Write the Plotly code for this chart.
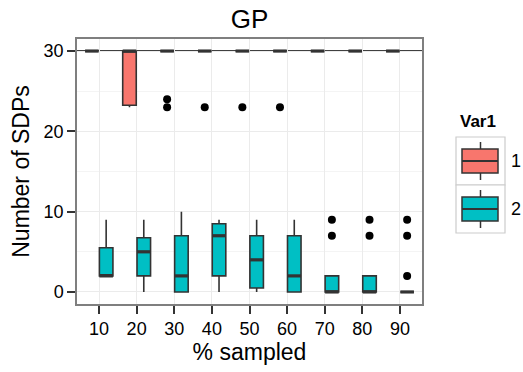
import plotly.graph_objects as go

# % of sites sampled (x categories)
pct_sampled = [10, 20, 30, 40, 50, 60, 70, 80, 90]
tick_labels = ["10", "20", "30", "40", "50", "60", "70", "80", "90"]

# Box statistics for Var1 = 1
q1_v1 = [30, 23.25, 30, 30, 30, 30, 30, 30, 30]
median_v1 = [30, 30, 30, 30, 30, 30, 30, 30, 30]
q3_v1 = [30, 30, 30, 30, 30, 30, 30, 30, 30]
lower_v1 = [30, 23, 30, 30, 30, 30, 30, 30, 30]
upper_v1 = [30, 30, 30, 30, 30, 30, 30, 30, 30]
outlier_pct_v1 = [30, 30, 40, 50, 60]
outlier_val_v1 = [24, 23, 23, 23, 23]

# Box statistics for Var1 = 2
q1_v2 = [2, 2, 0, 2, 0.5, 0, 0, 0, 0]
median_v2 = [2, 5, 2, 7, 4, 2, 0, 0, 0]
q3_v2 = [5.5, 6.75, 7, 8.5, 7, 7, 2, 2, 0]
lower_v2 = [2, 0, 0, 0, 0, 0, 0, 0, 0]
upper_v2 = [9, 9, 10, 9, 9, 9, 2, 2, 0]
outlier_pct_v2 = [70, 70, 80, 80, 90, 90, 90]
outlier_val_v2 = [7, 9, 7, 9, 2, 7, 9]

max_sdps = 30

COLOR_V1 = "#F8766D"
COLOR_V2 = "#00BFC4"
EDGE = "#333333"
FONT = "Liberation Sans, Arial, Helvetica, sans-serif"

DODGE = 0.19
BOX_W = 0.36


def positions(pcts, offset):
    return [pct_sampled.index(p) + 1 + offset for p in pcts]


def median_segments(xs, meds):
    sx, sy = [], []
    for x, m in zip(xs, meds):
        sx += [x - BOX_W / 2, x + BOX_W / 2, None]
        sy += [m, m, None]
    return sx, sy


fig = go.Figure()

groups = [
    (-DODGE, COLOR_V1, q1_v1, median_v1, q3_v1, lower_v1, upper_v1, outlier_pct_v1, outlier_val_v1),
    (DODGE, COLOR_V2, q1_v2, median_v2, q3_v2, lower_v2, upper_v2, outlier_pct_v2, outlier_val_v2),
]

for off, col, q1, med, q3, lo, hi, opct, oval in groups:
    xs = positions(pct_sampled, off)
    fig.add_trace(go.Box(
        x=xs, q1=q1, median=med, q3=q3, lowerfence=lo, upperfence=hi,
        width=BOX_W, whiskerwidth=0, boxpoints=False,
        fillcolor=col, line=dict(color=EDGE, width=1.6),
        showlegend=False, hoverinfo="skip",
    ))
    mx, my = median_segments(xs, med)
    fig.add_trace(go.Scatter(
        x=mx, y=my, mode="lines", line=dict(color=EDGE, width=3.2),
        showlegend=False, hoverinfo="skip",
    ))
    fig.add_trace(go.Scatter(
        x=positions(opct, off), y=oval, mode="markers",
        marker=dict(color="black", size=8),
        showlegend=False, hoverinfo="skip",
    ))

# horizontal reference line at the maximum
fig.add_shape(type="line", xref="paper", x0=0, x1=1, yref="y", y0=max_sdps, y1=max_sdps,
              line=dict(color="black", width=1.6), layer="below")

# --- legend drawn in pixel space ---
L, T, PW, PH = 77, 39, 345, 265


def px(xp):
    return (xp - L) / PW


def py(yp):
    return (T + PH - yp) / PH


legend_keys = [("1", COLOR_V1, 137), ("2", COLOR_V2, 185)]
for label, col, top in legend_keys:
    fig.add_shape(type="rect", xref="paper", yref="paper",
                  x0=px(456), x1=px(505), y0=py(top), y1=py(top + 48),
                  line=dict(color="#CCCCCC", width=1.2), fillcolor="white")
    mid = top + 24
    fig.add_shape(type="line", xref="paper", yref="paper",
                  x0=px(480.5), x1=px(480.5), y0=py(top + 5), y1=py(top + 43),
                  line=dict(color=EDGE, width=1.5))
    fig.add_shape(type="rect", xref="paper", yref="paper",
                  x0=px(462), x1=px(498), y0=py(mid - 12), y1=py(mid + 12),
                  line=dict(color=EDGE, width=1.5), fillcolor=col)
    fig.add_shape(type="line", xref="paper", yref="paper",
                  x0=px(462), x1=px(498), y0=py(mid), y1=py(mid),
                  line=dict(color=EDGE, width=1.8))
    fig.add_annotation(text=label, xref="paper", yref="paper", x=px(509), y=py(mid),
                       xanchor="left", yanchor="middle", showarrow=False,
                       font=dict(size=18, color="black", family=FONT))

fig.add_annotation(text="<b>Var1</b>", xref="paper", yref="paper", x=px(478), y=py(121),
                   xanchor="center", yanchor="middle", showarrow=False,
                   font=dict(size=17, color="black", family=FONT))

fig.update_layout(
    width=523, height=372,
    margin=dict(l=L, r=523 - L - PW, t=T, b=372 - T - PH),
    paper_bgcolor="white", plot_bgcolor="white",
    font=dict(family=FONT, color="black"),
    title=dict(text="GP", x=0.5, xref="paper", xanchor="center",
               y=1 - 19 / 372, yref="container", yanchor="middle",
               font=dict(size=26, color="black", family=FONT)),
    showlegend=False,
)

fig.update_xaxes(
    range=[0.415, 9.585], tickmode="array",
    tickvals=list(range(1, len(pct_sampled) + 1)), ticktext=tick_labels,
    ticks="outside", ticklen=8, tickwidth=1.5, tickcolor=EDGE,
    tickfont=dict(size=18, color="black"),
    showgrid=True, gridcolor="#EBEBEB", gridwidth=1.2,
    showline=True, mirror=True, linecolor="#7F7F7F", linewidth=1.5,
    zeroline=False,
    title=dict(text="% sampled", font=dict(size=23, color="black"), standoff=6),
)

fig.update_yaxes(
    range=[-1.5, 31.5], tickmode="array", tickvals=[0, 10, 20, 30],
    ticks="outside", ticklen=8, tickwidth=1.5, tickcolor=EDGE,
    tickfont=dict(size=18, color="black"),
    showgrid=True, gridcolor="#EBEBEB", gridwidth=1.2,
    minor=dict(tickvals=[5, 15, 25], showgrid=True, gridcolor="#F4F4F4", gridwidth=0.8, ticks=""),
    showline=True, mirror=True, linecolor="#7F7F7F", linewidth=1.5,
    zeroline=False,
    title=dict(text="Number of SDPs", font=dict(size=23, color="black"), standoff=8),
)

fig.write_html("out.html")
